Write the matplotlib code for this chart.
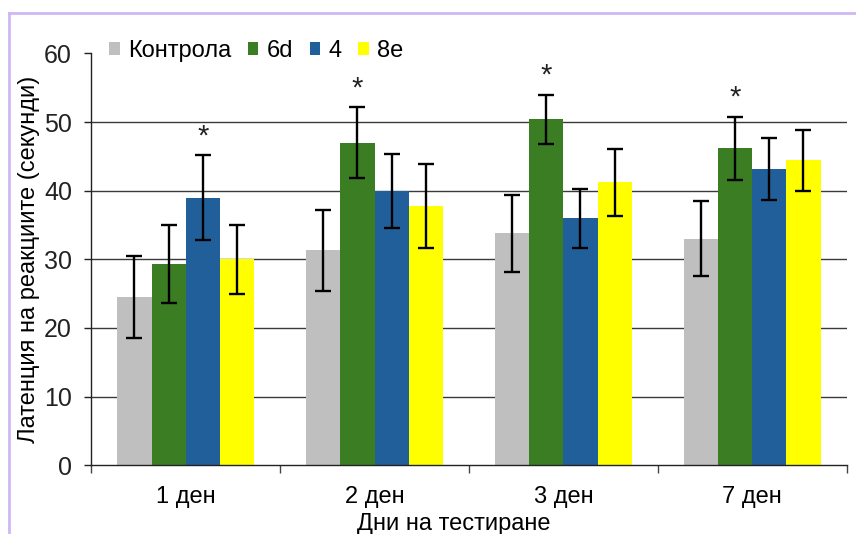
import numpy as np
import matplotlib
matplotlib.use("Agg")
import matplotlib.pyplot as plt
from matplotlib.lines import Line2D
from matplotlib.patches import Patch

plt.rcParams['font.family'] = ['Liberation Sans', 'DejaVu Sans']

# Days of testing and group names
days = ['1 ден', '2 ден', '3 ден', '7 ден']
groups = ['Контрола', '6d', '4', '8e']
colors = ['#BFBFBF', '#3B7D23', '#215F9A', '#FFFF00']

# Mean latency (s) per group, one value per day
control = [24.5, 31.3, 33.8, 33.0]
g6d = [29.3, 47.0, 50.4, 46.2]
g4 = [39.0, 40.0, 36.0, 43.2]
g8e = [30.0, 37.8, 41.2, 44.4]

# Error bar half-widths
control_err = [6.0, 5.9, 5.6, 5.5]
g6d_err = [5.7, 5.2, 3.6, 4.6]
g4_err = [6.2, 5.4, 4.3, 4.5]
g8e_err = [5.0, 6.1, 4.9, 4.4]

# Significance markers: (day index, group index)
stars = [(0, 2), (1, 1), (2, 1), (3, 1)]

means = [control, g6d, g4, g8e]
errs = [control_err, g6d_err, g4_err, g8e_err]

fig = plt.figure(figsize=(8.56, 5.34), dpi=100)
ax = fig.add_axes([0.1067, 0.1287, 0.8823, 0.7713])

x = np.arange(len(days))
width = 0.181
offsets = (np.arange(len(groups)) - 1.5) * width

for i, (m, e, c, name) in enumerate(zip(means, errs, colors, groups)):
    ax.bar(x + offsets[i], m, width, color=c, label=name, zorder=2,
           edgecolor='none')
    ax.errorbar(x + offsets[i], m, yerr=e, fmt='none', ecolor='black',
                elinewidth=1.7, capsize=6, capthick=1.7, zorder=3)

for d, g in stars:
    top = means[g][d] + errs[g][d]
    ax.text(x[d] + offsets[g], top + 0.7, '*', ha='center', va='bottom',
            fontsize=21, color='#222222')

ax.set_xlim(-0.5, len(days) - 0.5)
ax.set_ylim(0, 60)
ax.set_yticks(np.arange(0, 61, 10))
ax.set_xticks(x)
ax.set_xticklabels(days)
ax.set_xticks(np.arange(-0.5, len(days), 1.0), minor=True)

for yv in range(10, 60, 10):
    ax.axhline(yv, color='#3a3a3a', lw=1.0, zorder=1)

for s in ['top', 'right']:
    ax.spines[s].set_visible(False)
for s in ['left', 'bottom']:
    ax.spines[s].set_color('#222222')
    ax.spines[s].set_linewidth(1.0)

ax.tick_params(axis='y', length=5, width=1, labelsize=18, pad=9, colors='#222222')
ax.tick_params(axis='x', which='major', length=0, labelsize=17, pad=15)
ax.tick_params(axis='x', which='minor', length=6, width=1, color='#444444')

ax.set_ylabel('Латенция на реакциите (секунди)', fontsize=17, labelpad=3)
ax.set_xlabel('Дни на тестиране', fontsize=17, labelpad=3)
ax.xaxis.set_label_coords(0.48, -0.115)

handles = [Patch(facecolor=c, edgecolor='none') for c in colors]
ax.legend(handles, groups, loc='upper left', bbox_to_anchor=(0.011, 1.056),
          ncol=4, frameon=False, fontsize=17, handlelength=0.45,
          handleheight=0.45, handletextpad=0.35, columnspacing=0.7,
          borderaxespad=0)

# Thin lavender frame along the top and left edges
fig.add_artist(Line2D([9 / 856, 1.0], [1 - 13 / 534, 1 - 13 / 534],
                      transform=fig.transFigure, color='#CDB8F5', lw=2))
fig.add_artist(Line2D([9 / 856, 9 / 856], [0.0, 1 - 13 / 534],
                      transform=fig.transFigure, color='#CDB8F5', lw=2))

fig.savefig('out.png', dpi=100)
